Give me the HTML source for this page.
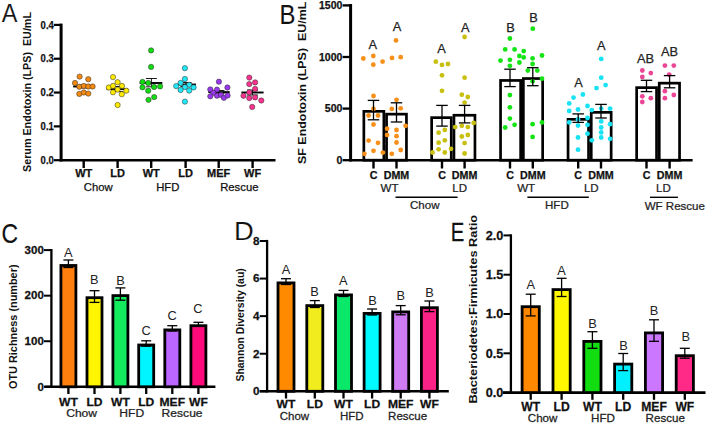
<!DOCTYPE html>
<html><head><meta charset="utf-8"><style>
html,body{margin:0;padding:0;background:#fff;width:707px;height:424px;overflow:hidden;}
svg{display:block;font-family:"Liberation Sans", sans-serif;}
</style></head><body>
<svg width="707" height="424" viewBox="0 0 707 424">
<rect x="0" y="0" width="707" height="424" fill="#fff"/>
<text transform="translate(1.65,22.40) scale(0.889,1)" x="0" y="0" font-size="26.45" fill="#111" stroke="#fff" stroke-width="0.15">A</text>
<text transform="translate(30.86,92.00) rotate(-90)" x="0" y="0" font-size="10.6" font-weight="bold" text-anchor="middle" fill="#111" textLength="160.0" lengthAdjust="spacingAndGlyphs">Serum Endotoxin (LPS)&#160;&#160;EU/mL</text>
<line x1="61.10" y1="23.60" x2="61.10" y2="161.40" stroke="#000" stroke-width="3"/>
<line x1="59.60" y1="160.20" x2="275.50" y2="160.20" stroke="#000" stroke-width="2.6"/>
<line x1="53.80" y1="160.20" x2="61.00" y2="160.20" stroke="#000" stroke-width="2.2"/>
<text transform="translate(53.80,163.86) scale(1.0,1)" x="0" y="0" font-size="10.6" font-weight="bold" text-anchor="end" fill="#111" stroke="#111" stroke-width="0.25" textLength="13.2" lengthAdjust="spacingAndGlyphs">0.0</text>
<line x1="53.80" y1="126.38" x2="61.00" y2="126.38" stroke="#000" stroke-width="2.2"/>
<text transform="translate(53.80,130.03) scale(1.0,1)" x="0" y="0" font-size="10.6" font-weight="bold" text-anchor="end" fill="#111" stroke="#111" stroke-width="0.25" textLength="13.2" lengthAdjust="spacingAndGlyphs">0.1</text>
<line x1="53.80" y1="92.55" x2="61.00" y2="92.55" stroke="#000" stroke-width="2.2"/>
<text transform="translate(53.80,96.21) scale(1.0,1)" x="0" y="0" font-size="10.6" font-weight="bold" text-anchor="end" fill="#111" stroke="#111" stroke-width="0.25" textLength="13.2" lengthAdjust="spacingAndGlyphs">0.2</text>
<line x1="53.80" y1="58.73" x2="61.00" y2="58.73" stroke="#000" stroke-width="2.2"/>
<text transform="translate(53.80,62.38) scale(1.0,1)" x="0" y="0" font-size="10.6" font-weight="bold" text-anchor="end" fill="#111" stroke="#111" stroke-width="0.25" textLength="13.2" lengthAdjust="spacingAndGlyphs">0.3</text>
<line x1="53.80" y1="24.90" x2="61.00" y2="24.90" stroke="#000" stroke-width="2.2"/>
<text transform="translate(53.80,28.56) scale(1.0,1)" x="0" y="0" font-size="10.6" font-weight="bold" text-anchor="end" fill="#111" stroke="#111" stroke-width="0.25" textLength="13.2" lengthAdjust="spacingAndGlyphs">0.4</text>
<line x1="83.70" y1="160.20" x2="83.70" y2="168.00" stroke="#000" stroke-width="2.4"/>
<text transform="translate(83.70,176.59) scale(1.0,1)" x="0" y="0" font-size="11" font-weight="bold" text-anchor="middle" fill="#111" stroke="#111" stroke-width="0.25" >WT</text>
<line x1="117.60" y1="160.20" x2="117.60" y2="168.00" stroke="#000" stroke-width="2.4"/>
<text transform="translate(117.60,176.59) scale(1.0,1)" x="0" y="0" font-size="11" font-weight="bold" text-anchor="middle" fill="#111" stroke="#111" stroke-width="0.25" >LD</text>
<line x1="151.20" y1="160.20" x2="151.20" y2="168.00" stroke="#000" stroke-width="2.4"/>
<text transform="translate(151.20,176.59) scale(1.0,1)" x="0" y="0" font-size="11" font-weight="bold" text-anchor="middle" fill="#111" stroke="#111" stroke-width="0.25" >WT</text>
<line x1="185.60" y1="160.20" x2="185.60" y2="168.00" stroke="#000" stroke-width="2.4"/>
<text transform="translate(185.60,176.59) scale(1.0,1)" x="0" y="0" font-size="11" font-weight="bold" text-anchor="middle" fill="#111" stroke="#111" stroke-width="0.25" >LD</text>
<line x1="218.70" y1="160.20" x2="218.70" y2="168.00" stroke="#000" stroke-width="2.4"/>
<text transform="translate(218.70,176.59) scale(1.0,1)" x="0" y="0" font-size="11" font-weight="bold" text-anchor="middle" fill="#111" stroke="#111" stroke-width="0.25" >MEF</text>
<line x1="252.60" y1="160.20" x2="252.60" y2="168.00" stroke="#000" stroke-width="2.4"/>
<text transform="translate(252.60,176.59) scale(1.0,1)" x="0" y="0" font-size="11" font-weight="bold" text-anchor="middle" fill="#111" stroke="#111" stroke-width="0.25" >WF</text>
<text transform="translate(98.20,190.90) scale(1.0,1)" x="0" y="0" font-size="11.3" font-weight="normal" text-anchor="middle" fill="#111" stroke="#111" stroke-width="0.25" >Chow</text>
<text transform="translate(167.80,191.30) scale(1.0,1)" x="0" y="0" font-size="11.3" font-weight="normal" text-anchor="middle" fill="#111" stroke="#111" stroke-width="0.25" >HFD</text>
<text transform="translate(239.30,191.30) scale(1.0,1)" x="0" y="0" font-size="11.3" font-weight="normal" text-anchor="middle" fill="#111" stroke="#111" stroke-width="0.25" >Rescue</text>
<line x1="73.20" y1="86.50" x2="93.40" y2="86.50" stroke="#000" stroke-width="1.9"/>
<line x1="84.00" y1="85.00" x2="84.00" y2="88.00" stroke="#000" stroke-width="0.9"/>
<line x1="78.50" y1="85.00" x2="89.50" y2="85.00" stroke="#000" stroke-width="0.9"/>
<line x1="78.50" y1="88.00" x2="89.50" y2="88.00" stroke="#000" stroke-width="0.9"/>
<line x1="106.60" y1="89.10" x2="127.90" y2="89.10" stroke="#000" stroke-width="1.9"/>
<line x1="117.60" y1="86.50" x2="117.60" y2="91.50" stroke="#000" stroke-width="0.9"/>
<line x1="112.10" y1="86.50" x2="123.10" y2="86.50" stroke="#000" stroke-width="0.9"/>
<line x1="112.10" y1="91.50" x2="123.10" y2="91.50" stroke="#000" stroke-width="0.9"/>
<line x1="139.70" y1="83.00" x2="162.30" y2="83.00" stroke="#000" stroke-width="1.9"/>
<line x1="151.40" y1="78.50" x2="151.40" y2="86.80" stroke="#000" stroke-width="0.9"/>
<line x1="145.90" y1="78.50" x2="156.90" y2="78.50" stroke="#000" stroke-width="0.9"/>
<line x1="145.90" y1="86.80" x2="156.90" y2="86.80" stroke="#000" stroke-width="0.9"/>
<line x1="177.80" y1="84.50" x2="195.90" y2="84.50" stroke="#000" stroke-width="1.9"/>
<line x1="186.00" y1="82.50" x2="186.00" y2="86.50" stroke="#000" stroke-width="0.9"/>
<line x1="180.50" y1="82.50" x2="191.50" y2="82.50" stroke="#000" stroke-width="0.9"/>
<line x1="180.50" y1="86.50" x2="191.50" y2="86.50" stroke="#000" stroke-width="0.9"/>
<line x1="208.30" y1="92.10" x2="229.70" y2="92.10" stroke="#000" stroke-width="1.9"/>
<line x1="219.00" y1="90.50" x2="219.00" y2="93.50" stroke="#000" stroke-width="0.9"/>
<line x1="213.50" y1="90.50" x2="224.50" y2="90.50" stroke="#000" stroke-width="0.9"/>
<line x1="213.50" y1="93.50" x2="224.50" y2="93.50" stroke="#000" stroke-width="0.9"/>
<line x1="241.40" y1="92.50" x2="263.60" y2="92.50" stroke="#000" stroke-width="1.9"/>
<line x1="252.50" y1="90.00" x2="252.50" y2="95.00" stroke="#000" stroke-width="0.9"/>
<line x1="247.00" y1="90.00" x2="258.00" y2="90.00" stroke="#000" stroke-width="0.9"/>
<line x1="247.00" y1="95.00" x2="258.00" y2="95.00" stroke="#000" stroke-width="0.9"/>
<circle cx="79.60" cy="76.60" r="2.65" fill="#F58A12" stroke="#2a2a2a" stroke-width="0.5"/>
<circle cx="88.30" cy="79.20" r="2.65" fill="#F58A12" stroke="#2a2a2a" stroke-width="0.5"/>
<circle cx="75.00" cy="83.00" r="2.65" fill="#F58A12" stroke="#2a2a2a" stroke-width="0.5"/>
<circle cx="79.30" cy="86.80" r="2.65" fill="#F58A12" stroke="#2a2a2a" stroke-width="0.5"/>
<circle cx="83.80" cy="85.90" r="2.65" fill="#F58A12" stroke="#2a2a2a" stroke-width="0.5"/>
<circle cx="88.30" cy="86.50" r="2.65" fill="#F58A12" stroke="#2a2a2a" stroke-width="0.5"/>
<circle cx="92.60" cy="86.50" r="2.65" fill="#F58A12" stroke="#2a2a2a" stroke-width="0.5"/>
<circle cx="79.30" cy="93.90" r="2.65" fill="#F58A12" stroke="#2a2a2a" stroke-width="0.5"/>
<circle cx="83.80" cy="92.50" r="2.65" fill="#F58A12" stroke="#2a2a2a" stroke-width="0.5"/>
<circle cx="88.30" cy="93.60" r="2.65" fill="#F58A12" stroke="#2a2a2a" stroke-width="0.5"/>
<circle cx="113.00" cy="77.10" r="2.65" fill="#FFEA00" stroke="#2a2a2a" stroke-width="0.5"/>
<circle cx="117.60" cy="82.20" r="2.65" fill="#FFEA00" stroke="#2a2a2a" stroke-width="0.5"/>
<circle cx="108.80" cy="87.50" r="2.65" fill="#FFEA00" stroke="#2a2a2a" stroke-width="0.5"/>
<circle cx="113.00" cy="85.90" r="2.65" fill="#FFEA00" stroke="#2a2a2a" stroke-width="0.5"/>
<circle cx="122.00" cy="85.90" r="2.65" fill="#FFEA00" stroke="#2a2a2a" stroke-width="0.5"/>
<circle cx="117.60" cy="89.60" r="2.65" fill="#FFEA00" stroke="#2a2a2a" stroke-width="0.5"/>
<circle cx="126.30" cy="90.70" r="2.65" fill="#FFEA00" stroke="#2a2a2a" stroke-width="0.5"/>
<circle cx="113.00" cy="92.30" r="2.65" fill="#FFEA00" stroke="#2a2a2a" stroke-width="0.5"/>
<circle cx="121.80" cy="94.20" r="2.65" fill="#FFEA00" stroke="#2a2a2a" stroke-width="0.5"/>
<circle cx="117.60" cy="105.00" r="2.65" fill="#FFEA00" stroke="#2a2a2a" stroke-width="0.5"/>
<circle cx="151.10" cy="50.40" r="2.65" fill="#12DC12" stroke="#2a2a2a" stroke-width="0.5"/>
<circle cx="151.10" cy="66.90" r="2.65" fill="#12DC12" stroke="#2a2a2a" stroke-width="0.5"/>
<circle cx="142.50" cy="81.90" r="2.65" fill="#12DC12" stroke="#2a2a2a" stroke-width="0.5"/>
<circle cx="148.20" cy="83.00" r="2.65" fill="#12DC12" stroke="#2a2a2a" stroke-width="0.5"/>
<circle cx="142.50" cy="87.30" r="2.65" fill="#12DC12" stroke="#2a2a2a" stroke-width="0.5"/>
<circle cx="148.20" cy="90.70" r="2.65" fill="#12DC12" stroke="#2a2a2a" stroke-width="0.5"/>
<circle cx="154.10" cy="87.00" r="2.65" fill="#12DC12" stroke="#2a2a2a" stroke-width="0.5"/>
<circle cx="160.10" cy="86.40" r="2.65" fill="#12DC12" stroke="#2a2a2a" stroke-width="0.5"/>
<circle cx="148.50" cy="99.80" r="2.65" fill="#12DC12" stroke="#2a2a2a" stroke-width="0.5"/>
<circle cx="154.20" cy="97.10" r="2.65" fill="#12DC12" stroke="#2a2a2a" stroke-width="0.5"/>
<circle cx="184.90" cy="68.20" r="2.65" fill="#22E8F8" stroke="#2a2a2a" stroke-width="0.5"/>
<circle cx="184.90" cy="79.00" r="2.65" fill="#22E8F8" stroke="#2a2a2a" stroke-width="0.5"/>
<circle cx="180.60" cy="82.90" r="2.65" fill="#22E8F8" stroke="#2a2a2a" stroke-width="0.5"/>
<circle cx="189.20" cy="84.80" r="2.65" fill="#22E8F8" stroke="#2a2a2a" stroke-width="0.5"/>
<circle cx="176.20" cy="86.10" r="2.65" fill="#22E8F8" stroke="#2a2a2a" stroke-width="0.5"/>
<circle cx="184.90" cy="87.10" r="2.65" fill="#22E8F8" stroke="#2a2a2a" stroke-width="0.5"/>
<circle cx="193.60" cy="87.40" r="2.65" fill="#22E8F8" stroke="#2a2a2a" stroke-width="0.5"/>
<circle cx="180.60" cy="90.00" r="2.65" fill="#22E8F8" stroke="#2a2a2a" stroke-width="0.5"/>
<circle cx="189.20" cy="90.60" r="2.65" fill="#22E8F8" stroke="#2a2a2a" stroke-width="0.5"/>
<circle cx="184.90" cy="101.60" r="2.65" fill="#22E8F8" stroke="#2a2a2a" stroke-width="0.5"/>
<circle cx="218.90" cy="81.70" r="2.65" fill="#9A38EE" stroke="#2a2a2a" stroke-width="0.5"/>
<circle cx="210.30" cy="89.40" r="2.65" fill="#9A38EE" stroke="#2a2a2a" stroke-width="0.5"/>
<circle cx="217.00" cy="89.60" r="2.65" fill="#9A38EE" stroke="#2a2a2a" stroke-width="0.5"/>
<circle cx="227.40" cy="87.50" r="2.65" fill="#9A38EE" stroke="#2a2a2a" stroke-width="0.5"/>
<circle cx="213.30" cy="92.80" r="2.65" fill="#9A38EE" stroke="#2a2a2a" stroke-width="0.5"/>
<circle cx="210.30" cy="96.30" r="2.65" fill="#9A38EE" stroke="#2a2a2a" stroke-width="0.5"/>
<circle cx="217.00" cy="95.70" r="2.65" fill="#9A38EE" stroke="#2a2a2a" stroke-width="0.5"/>
<circle cx="221.00" cy="94.90" r="2.65" fill="#9A38EE" stroke="#2a2a2a" stroke-width="0.5"/>
<circle cx="223.90" cy="97.80" r="2.65" fill="#9A38EE" stroke="#2a2a2a" stroke-width="0.5"/>
<circle cx="227.60" cy="95.50" r="2.65" fill="#9A38EE" stroke="#2a2a2a" stroke-width="0.5"/>
<circle cx="249.30" cy="77.60" r="2.65" fill="#F8338F" stroke="#2a2a2a" stroke-width="0.5"/>
<circle cx="255.10" cy="82.40" r="2.65" fill="#F8338F" stroke="#2a2a2a" stroke-width="0.5"/>
<circle cx="249.30" cy="84.10" r="2.65" fill="#F8338F" stroke="#2a2a2a" stroke-width="0.5"/>
<circle cx="255.10" cy="88.90" r="2.65" fill="#F8338F" stroke="#2a2a2a" stroke-width="0.5"/>
<circle cx="249.30" cy="92.30" r="2.65" fill="#F8338F" stroke="#2a2a2a" stroke-width="0.5"/>
<circle cx="243.50" cy="95.80" r="2.65" fill="#F8338F" stroke="#2a2a2a" stroke-width="0.5"/>
<circle cx="249.30" cy="98.10" r="2.65" fill="#F8338F" stroke="#2a2a2a" stroke-width="0.5"/>
<circle cx="255.10" cy="97.40" r="2.65" fill="#F8338F" stroke="#2a2a2a" stroke-width="0.5"/>
<circle cx="261.30" cy="100.50" r="2.65" fill="#F8338F" stroke="#2a2a2a" stroke-width="0.5"/>
<circle cx="252.20" cy="106.90" r="2.65" fill="#F8338F" stroke="#2a2a2a" stroke-width="0.5"/>
<text transform="translate(279.44,24.40) scale(0.893,1)" x="0" y="0" font-size="26.74" fill="#111" stroke="#111" stroke-width="0.1">B</text>
<text transform="translate(306.36,82.85) rotate(-90)" x="0" y="0" font-size="10.6" font-weight="bold" text-anchor="middle" fill="#111" textLength="162.3" lengthAdjust="spacingAndGlyphs">SF Endotoxin (LPS)&#160;&#160;EU/mL</text>
<line x1="350.60" y1="4.00" x2="350.60" y2="161.40" stroke="#000" stroke-width="3.0"/>
<line x1="349.20" y1="160.20" x2="692.60" y2="160.20" stroke="#000" stroke-width="2.6"/>
<line x1="342.60" y1="160.20" x2="350.50" y2="160.20" stroke="#000" stroke-width="2.3"/>
<text transform="translate(342.40,163.99) scale(1.0,1)" x="0" y="0" font-size="11" font-weight="bold" text-anchor="end" fill="#111" stroke="#111" stroke-width="0.25" textLength="5.9" lengthAdjust="spacingAndGlyphs">0</text>
<line x1="342.60" y1="108.60" x2="350.50" y2="108.60" stroke="#000" stroke-width="2.3"/>
<text transform="translate(342.40,112.39) scale(1.0,1)" x="0" y="0" font-size="11" font-weight="bold" text-anchor="end" fill="#111" stroke="#111" stroke-width="0.25" textLength="17.6" lengthAdjust="spacingAndGlyphs">500</text>
<line x1="342.60" y1="57.00" x2="350.50" y2="57.00" stroke="#000" stroke-width="2.3"/>
<text transform="translate(342.40,60.80) scale(1.0,1)" x="0" y="0" font-size="11" font-weight="bold" text-anchor="end" fill="#111" stroke="#111" stroke-width="0.25" textLength="23.4" lengthAdjust="spacingAndGlyphs">1000</text>
<line x1="342.60" y1="5.40" x2="350.50" y2="5.40" stroke="#000" stroke-width="2.3"/>
<text transform="translate(342.40,9.20) scale(1.0,1)" x="0" y="0" font-size="11" font-weight="bold" text-anchor="end" fill="#111" stroke="#111" stroke-width="0.25" textLength="23.4" lengthAdjust="spacingAndGlyphs">1500</text>
<rect x="363.85" y="111.35" width="20.00" height="48.85" fill="#fff" stroke="#000" stroke-width="2.7"/>
<rect x="386.55" y="114.15" width="19.90" height="46.05" fill="#fff" stroke="#000" stroke-width="2.7"/>
<rect x="431.65" y="117.65" width="19.60" height="42.55" fill="#fff" stroke="#000" stroke-width="2.7"/>
<rect x="453.95" y="115.25" width="21.00" height="44.95" fill="#fff" stroke="#000" stroke-width="2.7"/>
<rect x="500.55" y="80.45" width="20.10" height="79.75" fill="#fff" stroke="#000" stroke-width="2.7"/>
<rect x="523.35" y="78.55" width="19.30" height="81.65" fill="#fff" stroke="#000" stroke-width="2.7"/>
<rect x="568.05" y="119.35" width="20.50" height="40.85" fill="#fff" stroke="#000" stroke-width="2.7"/>
<rect x="591.25" y="112.35" width="19.90" height="47.85" fill="#fff" stroke="#000" stroke-width="2.7"/>
<rect x="636.65" y="87.65" width="19.90" height="72.55" fill="#fff" stroke="#000" stroke-width="2.7"/>
<rect x="659.25" y="83.15" width="20.30" height="77.05" fill="#fff" stroke="#000" stroke-width="2.7"/>
<circle cx="363.30" cy="58.50" r="2.4" fill="#F7901A"/>
<circle cx="373.30" cy="56.00" r="2.4" fill="#F7901A"/>
<circle cx="373.30" cy="64.70" r="2.4" fill="#F7901A"/>
<circle cx="382.60" cy="61.60" r="2.4" fill="#F7901A"/>
<circle cx="373.50" cy="96.00" r="2.4" fill="#F7901A"/>
<circle cx="373.50" cy="108.90" r="2.4" fill="#F7901A"/>
<circle cx="368.60" cy="115.50" r="2.4" fill="#F7901A"/>
<circle cx="378.00" cy="115.50" r="2.4" fill="#F7901A"/>
<circle cx="373.50" cy="124.50" r="2.4" fill="#F7901A"/>
<circle cx="368.60" cy="140.60" r="2.4" fill="#F7901A"/>
<circle cx="378.00" cy="142.80" r="2.4" fill="#F7901A"/>
<circle cx="373.50" cy="150.80" r="2.4" fill="#F7901A"/>
<circle cx="364.40" cy="153.80" r="2.4" fill="#F7901A"/>
<circle cx="382.90" cy="152.60" r="2.4" fill="#F7901A"/>
<circle cx="392.00" cy="57.90" r="2.4" fill="#F7901A"/>
<circle cx="400.70" cy="57.20" r="2.4" fill="#F7901A"/>
<circle cx="396.00" cy="40.40" r="2.4" fill="#F7901A"/>
<circle cx="396.50" cy="99.80" r="2.4" fill="#F7901A"/>
<circle cx="391.80" cy="108.90" r="2.4" fill="#F7901A"/>
<circle cx="400.70" cy="108.30" r="2.4" fill="#F7901A"/>
<circle cx="405.60" cy="125.80" r="2.4" fill="#F7901A"/>
<circle cx="387.10" cy="128.70" r="2.4" fill="#F7901A"/>
<circle cx="396.50" cy="130.00" r="2.4" fill="#F7901A"/>
<circle cx="387.10" cy="134.90" r="2.4" fill="#F7901A"/>
<circle cx="396.50" cy="136.20" r="2.4" fill="#F7901A"/>
<circle cx="396.50" cy="142.50" r="2.4" fill="#F7901A"/>
<circle cx="400.70" cy="150.00" r="2.4" fill="#F7901A"/>
<circle cx="391.80" cy="153.80" r="2.4" fill="#F7901A"/>
<circle cx="435.80" cy="61.70" r="2.4" fill="#C8C010"/>
<circle cx="442.00" cy="64.90" r="2.4" fill="#C8C010"/>
<circle cx="448.00" cy="64.00" r="2.4" fill="#C8C010"/>
<circle cx="442.00" cy="75.30" r="2.4" fill="#C8C010"/>
<circle cx="442.00" cy="90.80" r="2.4" fill="#C8C010"/>
<circle cx="438.60" cy="132.70" r="2.4" fill="#C8C010"/>
<circle cx="444.80" cy="129.90" r="2.4" fill="#C8C010"/>
<circle cx="444.80" cy="140.30" r="2.4" fill="#C8C010"/>
<circle cx="438.60" cy="142.70" r="2.4" fill="#C8C010"/>
<circle cx="438.60" cy="149.30" r="2.4" fill="#C8C010"/>
<circle cx="451.00" cy="148.80" r="2.4" fill="#C8C010"/>
<circle cx="432.50" cy="152.50" r="2.4" fill="#C8C010"/>
<circle cx="444.80" cy="152.50" r="2.4" fill="#C8C010"/>
<circle cx="464.60" cy="37.00" r="2.4" fill="#C8C010"/>
<circle cx="464.60" cy="77.70" r="2.4" fill="#C8C010"/>
<circle cx="461.80" cy="94.70" r="2.4" fill="#C8C010"/>
<circle cx="467.80" cy="97.00" r="2.4" fill="#C8C010"/>
<circle cx="464.60" cy="102.60" r="2.4" fill="#C8C010"/>
<circle cx="473.70" cy="122.90" r="2.4" fill="#C8C010"/>
<circle cx="455.20" cy="127.10" r="2.4" fill="#C8C010"/>
<circle cx="461.80" cy="125.80" r="2.4" fill="#C8C010"/>
<circle cx="467.80" cy="127.10" r="2.4" fill="#C8C010"/>
<circle cx="461.80" cy="136.50" r="2.4" fill="#C8C010"/>
<circle cx="467.80" cy="135.00" r="2.4" fill="#C8C010"/>
<circle cx="464.60" cy="143.10" r="2.4" fill="#C8C010"/>
<circle cx="464.60" cy="153.50" r="2.4" fill="#C8C010"/>
<circle cx="509.90" cy="38.50" r="2.4" fill="#14E414"/>
<circle cx="505.20" cy="49.40" r="2.4" fill="#14E414"/>
<circle cx="514.60" cy="49.40" r="2.4" fill="#14E414"/>
<circle cx="500.50" cy="60.60" r="2.4" fill="#14E414"/>
<circle cx="509.90" cy="59.80" r="2.4" fill="#14E414"/>
<circle cx="509.90" cy="65.80" r="2.4" fill="#14E414"/>
<circle cx="509.90" cy="95.10" r="2.4" fill="#14E414"/>
<circle cx="509.90" cy="107.30" r="2.4" fill="#14E414"/>
<circle cx="509.90" cy="118.60" r="2.4" fill="#14E414"/>
<circle cx="505.20" cy="127.50" r="2.4" fill="#14E414"/>
<circle cx="514.60" cy="124.80" r="2.4" fill="#14E414"/>
<circle cx="532.80" cy="28.70" r="2.4" fill="#14E414"/>
<circle cx="523.70" cy="51.10" r="2.4" fill="#14E414"/>
<circle cx="519.40" cy="56.00" r="2.4" fill="#14E414"/>
<circle cx="523.70" cy="57.40" r="2.4" fill="#14E414"/>
<circle cx="519.40" cy="62.50" r="2.4" fill="#14E414"/>
<circle cx="532.60" cy="58.30" r="2.4" fill="#14E414"/>
<circle cx="542.00" cy="55.50" r="2.4" fill="#14E414"/>
<circle cx="532.60" cy="64.00" r="2.4" fill="#14E414"/>
<circle cx="527.80" cy="70.60" r="2.4" fill="#14E414"/>
<circle cx="537.30" cy="70.60" r="2.4" fill="#14E414"/>
<circle cx="532.60" cy="81.30" r="2.4" fill="#14E414"/>
<circle cx="542.00" cy="78.70" r="2.4" fill="#14E414"/>
<circle cx="532.60" cy="124.20" r="2.4" fill="#14E414"/>
<circle cx="542.00" cy="122.40" r="2.4" fill="#14E414"/>
<circle cx="532.60" cy="136.90" r="2.4" fill="#14E414"/>
<circle cx="582.90" cy="94.50" r="2.4" fill="#18E2F4"/>
<circle cx="573.50" cy="97.60" r="2.4" fill="#18E2F4"/>
<circle cx="569.20" cy="103.40" r="2.4" fill="#18E2F4"/>
<circle cx="587.50" cy="106.00" r="2.4" fill="#18E2F4"/>
<circle cx="578.00" cy="109.50" r="2.4" fill="#18E2F4"/>
<circle cx="569.20" cy="111.00" r="2.4" fill="#18E2F4"/>
<circle cx="578.00" cy="119.50" r="2.4" fill="#18E2F4"/>
<circle cx="569.20" cy="122.40" r="2.4" fill="#18E2F4"/>
<circle cx="587.50" cy="118.00" r="2.4" fill="#18E2F4"/>
<circle cx="578.00" cy="125.60" r="2.4" fill="#18E2F4"/>
<circle cx="587.50" cy="124.80" r="2.4" fill="#18E2F4"/>
<circle cx="587.50" cy="133.70" r="2.4" fill="#18E2F4"/>
<circle cx="578.00" cy="137.50" r="2.4" fill="#18E2F4"/>
<circle cx="578.00" cy="149.70" r="2.4" fill="#18E2F4"/>
<circle cx="601.20" cy="58.90" r="2.4" fill="#18E2F4"/>
<circle cx="601.20" cy="77.70" r="2.4" fill="#18E2F4"/>
<circle cx="596.50" cy="88.10" r="2.4" fill="#18E2F4"/>
<circle cx="605.60" cy="85.10" r="2.4" fill="#18E2F4"/>
<circle cx="591.80" cy="110.10" r="2.4" fill="#18E2F4"/>
<circle cx="601.20" cy="108.60" r="2.4" fill="#18E2F4"/>
<circle cx="610.10" cy="108.60" r="2.4" fill="#18E2F4"/>
<circle cx="601.20" cy="121.40" r="2.4" fill="#18E2F4"/>
<circle cx="610.10" cy="124.20" r="2.4" fill="#18E2F4"/>
<circle cx="601.20" cy="127.50" r="2.4" fill="#18E2F4"/>
<circle cx="601.20" cy="132.40" r="2.4" fill="#18E2F4"/>
<circle cx="601.20" cy="137.50" r="2.4" fill="#18E2F4"/>
<circle cx="591.80" cy="140.30" r="2.4" fill="#18E2F4"/>
<circle cx="610.10" cy="138.80" r="2.4" fill="#18E2F4"/>
<circle cx="642.30" cy="70.50" r="2.4" fill="#EC4596"/>
<circle cx="650.80" cy="73.10" r="2.4" fill="#EC4596"/>
<circle cx="642.30" cy="76.90" r="2.4" fill="#EC4596"/>
<circle cx="642.30" cy="96.30" r="2.4" fill="#EC4596"/>
<circle cx="650.80" cy="98.20" r="2.4" fill="#EC4596"/>
<circle cx="642.30" cy="102.00" r="2.4" fill="#EC4596"/>
<circle cx="664.90" cy="65.60" r="2.4" fill="#EC4596"/>
<circle cx="673.80" cy="65.60" r="2.4" fill="#EC4596"/>
<circle cx="669.20" cy="74.60" r="2.4" fill="#EC4596"/>
<circle cx="664.90" cy="91.20" r="2.4" fill="#EC4596"/>
<circle cx="673.80" cy="95.00" r="2.4" fill="#EC4596"/>
<circle cx="664.90" cy="98.20" r="2.4" fill="#EC4596"/>
<line x1="373.50" y1="100.40" x2="373.50" y2="119.80" stroke="#000" stroke-width="1.3"/>
<line x1="367.75" y1="100.40" x2="379.25" y2="100.40" stroke="#000" stroke-width="1.3"/>
<line x1="367.75" y1="119.80" x2="379.25" y2="119.80" stroke="#000" stroke-width="1.3"/>
<line x1="396.50" y1="102.80" x2="396.50" y2="122.00" stroke="#000" stroke-width="1.3"/>
<line x1="390.75" y1="102.80" x2="402.25" y2="102.80" stroke="#000" stroke-width="1.3"/>
<line x1="390.75" y1="122.00" x2="402.25" y2="122.00" stroke="#000" stroke-width="1.3"/>
<line x1="442.00" y1="105.40" x2="442.00" y2="126.10" stroke="#000" stroke-width="1.3"/>
<line x1="436.25" y1="105.40" x2="447.75" y2="105.40" stroke="#000" stroke-width="1.3"/>
<line x1="436.25" y1="126.10" x2="447.75" y2="126.10" stroke="#000" stroke-width="1.3"/>
<line x1="464.60" y1="105.40" x2="464.60" y2="122.90" stroke="#000" stroke-width="1.3"/>
<line x1="458.85" y1="105.40" x2="470.35" y2="105.40" stroke="#000" stroke-width="1.3"/>
<line x1="458.85" y1="122.90" x2="470.35" y2="122.90" stroke="#000" stroke-width="1.3"/>
<line x1="510.00" y1="69.20" x2="510.00" y2="86.60" stroke="#000" stroke-width="1.3"/>
<line x1="504.25" y1="69.20" x2="515.75" y2="69.20" stroke="#000" stroke-width="1.3"/>
<line x1="504.25" y1="86.60" x2="515.75" y2="86.60" stroke="#000" stroke-width="1.3"/>
<line x1="532.80" y1="67.70" x2="532.80" y2="85.70" stroke="#000" stroke-width="1.3"/>
<line x1="527.05" y1="67.70" x2="538.55" y2="67.70" stroke="#000" stroke-width="1.3"/>
<line x1="527.05" y1="85.70" x2="538.55" y2="85.70" stroke="#000" stroke-width="1.3"/>
<line x1="578.20" y1="113.90" x2="578.20" y2="122.40" stroke="#000" stroke-width="1.3"/>
<line x1="572.45" y1="113.90" x2="583.95" y2="113.90" stroke="#000" stroke-width="1.3"/>
<line x1="572.45" y1="122.40" x2="583.95" y2="122.40" stroke="#000" stroke-width="1.3"/>
<line x1="601.00" y1="104.40" x2="601.00" y2="118.00" stroke="#000" stroke-width="1.3"/>
<line x1="595.25" y1="104.40" x2="606.75" y2="104.40" stroke="#000" stroke-width="1.3"/>
<line x1="595.25" y1="118.00" x2="606.75" y2="118.00" stroke="#000" stroke-width="1.3"/>
<line x1="646.50" y1="80.30" x2="646.50" y2="91.60" stroke="#000" stroke-width="1.3"/>
<line x1="640.75" y1="80.30" x2="652.25" y2="80.30" stroke="#000" stroke-width="1.3"/>
<line x1="640.75" y1="91.60" x2="652.25" y2="91.60" stroke="#000" stroke-width="1.3"/>
<line x1="669.60" y1="75.60" x2="669.60" y2="87.80" stroke="#000" stroke-width="1.3"/>
<line x1="663.85" y1="75.60" x2="675.35" y2="75.60" stroke="#000" stroke-width="1.3"/>
<line x1="663.85" y1="87.80" x2="675.35" y2="87.80" stroke="#000" stroke-width="1.3"/>
<line x1="373.50" y1="160.20" x2="373.50" y2="168.50" stroke="#000" stroke-width="2.4"/>
<text transform="translate(373.50,178.99) scale(1.0,1)" x="0" y="0" font-size="10.7" font-weight="bold" text-anchor="middle" fill="#111" stroke="#111" stroke-width="0.25" >C</text>
<line x1="396.50" y1="160.20" x2="396.50" y2="168.50" stroke="#000" stroke-width="2.4"/>
<text transform="translate(396.50,178.99) scale(1.0,1)" x="0" y="0" font-size="10.7" font-weight="bold" text-anchor="middle" fill="#111" stroke="#111" stroke-width="0.25" >DMM</text>
<line x1="442.00" y1="160.20" x2="442.00" y2="168.50" stroke="#000" stroke-width="2.4"/>
<text transform="translate(442.00,178.99) scale(1.0,1)" x="0" y="0" font-size="10.7" font-weight="bold" text-anchor="middle" fill="#111" stroke="#111" stroke-width="0.25" >C</text>
<line x1="464.60" y1="160.20" x2="464.60" y2="168.50" stroke="#000" stroke-width="2.4"/>
<text transform="translate(464.60,178.99) scale(1.0,1)" x="0" y="0" font-size="10.7" font-weight="bold" text-anchor="middle" fill="#111" stroke="#111" stroke-width="0.25" >DMM</text>
<line x1="510.00" y1="160.20" x2="510.00" y2="168.50" stroke="#000" stroke-width="2.4"/>
<text transform="translate(510.00,178.99) scale(1.0,1)" x="0" y="0" font-size="10.7" font-weight="bold" text-anchor="middle" fill="#111" stroke="#111" stroke-width="0.25" >C</text>
<line x1="532.80" y1="160.20" x2="532.80" y2="168.50" stroke="#000" stroke-width="2.4"/>
<text transform="translate(532.80,178.99) scale(1.0,1)" x="0" y="0" font-size="10.7" font-weight="bold" text-anchor="middle" fill="#111" stroke="#111" stroke-width="0.25" >DMM</text>
<line x1="578.20" y1="160.20" x2="578.20" y2="168.50" stroke="#000" stroke-width="2.4"/>
<text transform="translate(578.20,178.99) scale(1.0,1)" x="0" y="0" font-size="10.7" font-weight="bold" text-anchor="middle" fill="#111" stroke="#111" stroke-width="0.25" >C</text>
<line x1="601.00" y1="160.20" x2="601.00" y2="168.50" stroke="#000" stroke-width="2.4"/>
<text transform="translate(601.00,178.99) scale(1.0,1)" x="0" y="0" font-size="10.7" font-weight="bold" text-anchor="middle" fill="#111" stroke="#111" stroke-width="0.25" >DMM</text>
<line x1="646.50" y1="160.20" x2="646.50" y2="168.50" stroke="#000" stroke-width="2.4"/>
<text transform="translate(646.50,178.99) scale(1.0,1)" x="0" y="0" font-size="10.7" font-weight="bold" text-anchor="middle" fill="#111" stroke="#111" stroke-width="0.25" >C</text>
<line x1="669.60" y1="160.20" x2="669.60" y2="168.50" stroke="#000" stroke-width="2.4"/>
<text transform="translate(669.60,178.99) scale(1.0,1)" x="0" y="0" font-size="10.7" font-weight="bold" text-anchor="middle" fill="#111" stroke="#111" stroke-width="0.25" >DMM</text>
<text transform="translate(372.70,49.22) scale(1.0,1)" x="0" y="0" font-size="12.8" font-weight="normal" text-anchor="middle" fill="#222" stroke="#222" stroke-width="0.25" >A</text>
<text transform="translate(397.00,31.22) scale(1.0,1)" x="0" y="0" font-size="12.8" font-weight="normal" text-anchor="middle" fill="#222" stroke="#222" stroke-width="0.25" >A</text>
<text transform="translate(441.60,53.22) scale(1.0,1)" x="0" y="0" font-size="12.8" font-weight="normal" text-anchor="middle" fill="#222" stroke="#222" stroke-width="0.25" >A</text>
<text transform="translate(465.30,31.52) scale(1.0,1)" x="0" y="0" font-size="12.8" font-weight="normal" text-anchor="middle" fill="#222" stroke="#222" stroke-width="0.25" >A</text>
<text transform="translate(510.60,32.02) scale(1.0,1)" x="0" y="0" font-size="12.8" font-weight="normal" text-anchor="middle" fill="#222" stroke="#222" stroke-width="0.25" >B</text>
<text transform="translate(533.50,22.22) scale(1.0,1)" x="0" y="0" font-size="12.8" font-weight="normal" text-anchor="middle" fill="#222" stroke="#222" stroke-width="0.25" >B</text>
<text transform="translate(578.60,87.22) scale(1.0,1)" x="0" y="0" font-size="12.8" font-weight="normal" text-anchor="middle" fill="#222" stroke="#222" stroke-width="0.25" >A</text>
<text transform="translate(601.20,49.52) scale(1.0,1)" x="0" y="0" font-size="12.8" font-weight="normal" text-anchor="middle" fill="#222" stroke="#222" stroke-width="0.25" >A</text>
<text transform="translate(645.50,63.02) scale(1.0,1)" x="0" y="0" font-size="12.8" font-weight="normal" text-anchor="middle" fill="#222" stroke="#222" stroke-width="0.25" >AB</text>
<text transform="translate(669.60,56.42) scale(1.0,1)" x="0" y="0" font-size="12.8" font-weight="normal" text-anchor="middle" fill="#222" stroke="#222" stroke-width="0.25" >AB</text>
<text transform="translate(389.60,191.77) scale(0.98,1)" x="0" y="0" font-size="11.8" font-weight="normal" text-anchor="middle" fill="#222" stroke="#222" stroke-width="0.25" >WT</text>
<text transform="translate(459.70,191.77) scale(0.98,1)" x="0" y="0" font-size="11.8" font-weight="normal" text-anchor="middle" fill="#222" stroke="#222" stroke-width="0.25" >LD</text>
<text transform="translate(526.20,191.77) scale(0.98,1)" x="0" y="0" font-size="11.8" font-weight="normal" text-anchor="middle" fill="#222" stroke="#222" stroke-width="0.25" >WT</text>
<text transform="translate(591.30,191.77) scale(0.98,1)" x="0" y="0" font-size="11.8" font-weight="normal" text-anchor="middle" fill="#222" stroke="#222" stroke-width="0.25" >LD</text>
<text transform="translate(663.40,191.77) scale(0.98,1)" x="0" y="0" font-size="11.8" font-weight="normal" text-anchor="middle" fill="#222" stroke="#222" stroke-width="0.25" >LD</text>
<line x1="395.50" y1="197.30" x2="457.60" y2="197.30" stroke="#000" stroke-width="1.4"/>
<line x1="527.40" y1="197.20" x2="588.80" y2="197.20" stroke="#000" stroke-width="1.4"/>
<line x1="650.00" y1="197.30" x2="677.90" y2="197.30" stroke="#000" stroke-width="1.4"/>
<text transform="translate(424.80,208.67) scale(0.98,1)" x="0" y="0" font-size="11.8" font-weight="normal" text-anchor="middle" fill="#222" stroke="#222" stroke-width="0.25" >Chow</text>
<text transform="translate(556.90,208.97) scale(0.98,1)" x="0" y="0" font-size="11.8" font-weight="normal" text-anchor="middle" fill="#222" stroke="#222" stroke-width="0.25" >HFD</text>
<text transform="translate(674.80,209.67) scale(0.98,1)" x="0" y="0" font-size="11.8" font-weight="normal" text-anchor="middle" fill="#222" stroke="#222" stroke-width="0.25" >WF Rescue</text>
<text transform="translate(1.53,242.53) scale(0.840,1)" x="0" y="0" font-size="27.26" fill="#111" stroke="#111" stroke-width="0.15">C</text>
<text transform="translate(17.36,326.75) rotate(-90)" x="0" y="0" font-size="10.6" font-weight="bold" text-anchor="middle" fill="#111" textLength="124.5" lengthAdjust="spacingAndGlyphs">OTU Richness (number)</text>
<line x1="51.40" y1="249.00" x2="51.40" y2="388.00" stroke="#000" stroke-width="2.3"/>
<line x1="44.60" y1="386.80" x2="215.40" y2="386.80" stroke="#000" stroke-width="2.6"/>
<line x1="44.00" y1="386.80" x2="51.40" y2="386.80" stroke="#000" stroke-width="2.0"/>
<text transform="translate(43.80,390.62) scale(1.13,1)" x="0" y="0" font-size="10.2" font-weight="bold" text-anchor="end" fill="#111" stroke="#111" stroke-width="0.25" >0</text>
<line x1="44.00" y1="341.23" x2="51.40" y2="341.23" stroke="#000" stroke-width="2.0"/>
<text transform="translate(43.80,345.05) scale(1.13,1)" x="0" y="0" font-size="10.2" font-weight="bold" text-anchor="end" fill="#111" stroke="#111" stroke-width="0.25" >100</text>
<line x1="44.00" y1="295.67" x2="51.40" y2="295.67" stroke="#000" stroke-width="2.0"/>
<text transform="translate(43.80,299.49) scale(1.13,1)" x="0" y="0" font-size="10.2" font-weight="bold" text-anchor="end" fill="#111" stroke="#111" stroke-width="0.25" >200</text>
<line x1="44.00" y1="250.10" x2="51.40" y2="250.10" stroke="#000" stroke-width="2.0"/>
<text transform="translate(43.80,253.92) scale(1.13,1)" x="0" y="0" font-size="10.2" font-weight="bold" text-anchor="end" fill="#111" stroke="#111" stroke-width="0.25" >300</text>
<rect x="60.90" y="265.50" width="15.00" height="121.30" fill="#FF7F0E" stroke="#000" stroke-width="2.8"/>
<line x1="68.40" y1="260.00" x2="68.40" y2="267.50" stroke="#000" stroke-width="1.3"/>
<line x1="63.40" y1="260.00" x2="73.40" y2="260.00" stroke="#000" stroke-width="1.3"/>
<line x1="63.40" y1="267.50" x2="73.40" y2="267.50" stroke="#000" stroke-width="1.3"/>
<line x1="68.40" y1="386.80" x2="68.40" y2="394.00" stroke="#000" stroke-width="2.3"/>
<rect x="87.00" y="297.70" width="15.00" height="89.10" fill="#FFF500" stroke="#000" stroke-width="2.8"/>
<line x1="94.50" y1="290.70" x2="94.50" y2="302.40" stroke="#000" stroke-width="1.3"/>
<line x1="89.50" y1="290.70" x2="99.50" y2="290.70" stroke="#000" stroke-width="1.3"/>
<line x1="89.50" y1="302.40" x2="99.50" y2="302.40" stroke="#000" stroke-width="1.3"/>
<line x1="94.50" y1="386.80" x2="94.50" y2="394.00" stroke="#000" stroke-width="2.3"/>
<rect x="112.90" y="295.60" width="15.00" height="91.20" fill="#14EC60" stroke="#000" stroke-width="2.8"/>
<line x1="120.40" y1="287.90" x2="120.40" y2="300.20" stroke="#000" stroke-width="1.3"/>
<line x1="115.40" y1="287.90" x2="125.40" y2="287.90" stroke="#000" stroke-width="1.3"/>
<line x1="115.40" y1="300.20" x2="125.40" y2="300.20" stroke="#000" stroke-width="1.3"/>
<line x1="120.40" y1="386.80" x2="120.40" y2="394.00" stroke="#000" stroke-width="2.3"/>
<rect x="138.70" y="345.00" width="15.00" height="41.80" fill="#00F5FF" stroke="#000" stroke-width="2.8"/>
<line x1="146.20" y1="340.80" x2="146.20" y2="346.20" stroke="#000" stroke-width="1.3"/>
<line x1="141.20" y1="340.80" x2="151.20" y2="340.80" stroke="#000" stroke-width="1.3"/>
<line x1="141.20" y1="346.20" x2="151.20" y2="346.20" stroke="#000" stroke-width="1.3"/>
<line x1="146.20" y1="386.80" x2="146.20" y2="394.00" stroke="#000" stroke-width="2.3"/>
<rect x="164.80" y="329.90" width="15.00" height="56.90" fill="#BB66FF" stroke="#000" stroke-width="2.8"/>
<line x1="172.30" y1="325.70" x2="172.30" y2="331.00" stroke="#000" stroke-width="1.3"/>
<line x1="167.30" y1="325.70" x2="177.30" y2="325.70" stroke="#000" stroke-width="1.3"/>
<line x1="167.30" y1="331.00" x2="177.30" y2="331.00" stroke="#000" stroke-width="1.3"/>
<line x1="172.30" y1="386.80" x2="172.30" y2="394.00" stroke="#000" stroke-width="2.3"/>
<rect x="190.90" y="325.70" width="15.00" height="61.10" fill="#FF0A7A" stroke="#000" stroke-width="2.8"/>
<line x1="198.40" y1="322.30" x2="198.40" y2="326.30" stroke="#000" stroke-width="1.3"/>
<line x1="193.40" y1="322.30" x2="203.40" y2="322.30" stroke="#000" stroke-width="1.3"/>
<line x1="193.40" y1="326.30" x2="203.40" y2="326.30" stroke="#000" stroke-width="1.3"/>
<line x1="198.40" y1="386.80" x2="198.40" y2="394.00" stroke="#000" stroke-width="2.3"/>
<text transform="translate(68.30,257.42) scale(1.0,1)" x="0" y="0" font-size="12.8" font-weight="normal" text-anchor="middle" fill="#222"  >A</text>
<text transform="translate(94.30,283.92) scale(1.0,1)" x="0" y="0" font-size="12.8" font-weight="normal" text-anchor="middle" fill="#222"  >B</text>
<text transform="translate(120.40,284.82) scale(1.0,1)" x="0" y="0" font-size="12.8" font-weight="normal" text-anchor="middle" fill="#222"  >B</text>
<text transform="translate(146.20,334.82) scale(1.0,1)" x="0" y="0" font-size="12.8" font-weight="normal" text-anchor="middle" fill="#222"  >C</text>
<text transform="translate(172.20,319.72) scale(1.0,1)" x="0" y="0" font-size="12.8" font-weight="normal" text-anchor="middle" fill="#222"  >C</text>
<text transform="translate(197.90,313.12) scale(1.0,1)" x="0" y="0" font-size="12.8" font-weight="normal" text-anchor="middle" fill="#222"  >C</text>
<text transform="translate(68.40,405.80) scale(1.07,1)" x="0" y="0" font-size="11.3" font-weight="bold" text-anchor="middle" fill="#111" stroke="#111" stroke-width="0.25" >WT</text>
<text transform="translate(94.50,405.80) scale(1.07,1)" x="0" y="0" font-size="11.3" font-weight="bold" text-anchor="middle" fill="#111" stroke="#111" stroke-width="0.25" >LD</text>
<text transform="translate(120.40,405.80) scale(1.07,1)" x="0" y="0" font-size="11.3" font-weight="bold" text-anchor="middle" fill="#111" stroke="#111" stroke-width="0.25" >WT</text>
<text transform="translate(146.20,405.80) scale(1.07,1)" x="0" y="0" font-size="11.3" font-weight="bold" text-anchor="middle" fill="#111" stroke="#111" stroke-width="0.25" >LD</text>
<text transform="translate(172.30,405.80) scale(1.07,1)" x="0" y="0" font-size="11.3" font-weight="bold" text-anchor="middle" fill="#111" stroke="#111" stroke-width="0.25" >MEF</text>
<text transform="translate(198.40,405.80) scale(1.07,1)" x="0" y="0" font-size="11.3" font-weight="bold" text-anchor="middle" fill="#111" stroke="#111" stroke-width="0.25" >WF</text>
<text transform="translate(81.60,417.03) scale(1.12,1)" x="0" y="0" font-size="10.8" font-weight="normal" text-anchor="middle" fill="#222" stroke="#222" stroke-width="0.25" >Chow</text>
<text transform="translate(131.70,417.03) scale(1.12,1)" x="0" y="0" font-size="10.8" font-weight="normal" text-anchor="middle" fill="#222" stroke="#222" stroke-width="0.25" >HFD</text>
<text transform="translate(182.10,417.03) scale(1.12,1)" x="0" y="0" font-size="10.8" font-weight="normal" text-anchor="middle" fill="#222" stroke="#222" stroke-width="0.25" >Rescue</text>
<text transform="translate(233.96,239.70) scale(1.040,1)" x="0" y="0" font-size="26.31" fill="#111" stroke="#fff" stroke-width="0.15">D</text>
<text transform="translate(243.96,324.90) rotate(-90)" x="0" y="0" font-size="10.6" font-weight="bold" text-anchor="middle" fill="#111" textLength="113.2" lengthAdjust="spacingAndGlyphs">Shannon Diversity (au)</text>
<line x1="267.10" y1="239.90" x2="267.10" y2="392.50" stroke="#000" stroke-width="2.3"/>
<line x1="259.70" y1="391.30" x2="448.80" y2="391.30" stroke="#000" stroke-width="2.6"/>
<line x1="259.70" y1="391.30" x2="267.10" y2="391.30" stroke="#000" stroke-width="2.0"/>
<text transform="translate(259.50,395.20) scale(1.03,1)" x="0" y="0" font-size="11.3" font-weight="bold" text-anchor="end" fill="#111" stroke="#111" stroke-width="0.25" >0</text>
<line x1="259.70" y1="353.73" x2="267.10" y2="353.73" stroke="#000" stroke-width="2.0"/>
<text transform="translate(259.50,357.62) scale(1.03,1)" x="0" y="0" font-size="11.3" font-weight="bold" text-anchor="end" fill="#111" stroke="#111" stroke-width="0.25" >2</text>
<line x1="259.70" y1="316.15" x2="267.10" y2="316.15" stroke="#000" stroke-width="2.0"/>
<text transform="translate(259.50,320.05) scale(1.03,1)" x="0" y="0" font-size="11.3" font-weight="bold" text-anchor="end" fill="#111" stroke="#111" stroke-width="0.25" >4</text>
<line x1="259.70" y1="278.57" x2="267.10" y2="278.57" stroke="#000" stroke-width="2.0"/>
<text transform="translate(259.50,282.47) scale(1.03,1)" x="0" y="0" font-size="11.3" font-weight="bold" text-anchor="end" fill="#111" stroke="#111" stroke-width="0.25" >6</text>
<line x1="259.70" y1="241.00" x2="267.10" y2="241.00" stroke="#000" stroke-width="2.0"/>
<text transform="translate(259.50,244.90) scale(1.03,1)" x="0" y="0" font-size="11.3" font-weight="bold" text-anchor="end" fill="#111" stroke="#111" stroke-width="0.25" >8</text>
<rect x="278.00" y="282.90" width="16.00" height="108.40" fill="#FF8A00" stroke="#000" stroke-width="2.8"/>
<line x1="286.00" y1="278.70" x2="286.00" y2="284.50" stroke="#000" stroke-width="1.3"/>
<line x1="281.00" y1="278.70" x2="291.00" y2="278.70" stroke="#000" stroke-width="1.3"/>
<line x1="281.00" y1="284.50" x2="291.00" y2="284.50" stroke="#000" stroke-width="1.3"/>
<line x1="286.00" y1="391.30" x2="286.00" y2="398.50" stroke="#000" stroke-width="2.3"/>
<rect x="306.80" y="305.60" width="16.00" height="85.70" fill="#F0EC1E" stroke="#000" stroke-width="2.8"/>
<line x1="314.80" y1="300.60" x2="314.80" y2="307.50" stroke="#000" stroke-width="1.3"/>
<line x1="309.80" y1="300.60" x2="319.80" y2="300.60" stroke="#000" stroke-width="1.3"/>
<line x1="309.80" y1="307.50" x2="319.80" y2="307.50" stroke="#000" stroke-width="1.3"/>
<line x1="314.80" y1="391.30" x2="314.80" y2="398.50" stroke="#000" stroke-width="2.3"/>
<rect x="335.50" y="294.90" width="16.00" height="96.40" fill="#0AE86A" stroke="#000" stroke-width="2.8"/>
<line x1="343.50" y1="290.40" x2="343.50" y2="296.50" stroke="#000" stroke-width="1.3"/>
<line x1="338.50" y1="290.40" x2="348.50" y2="290.40" stroke="#000" stroke-width="1.3"/>
<line x1="338.50" y1="296.50" x2="348.50" y2="296.50" stroke="#000" stroke-width="1.3"/>
<line x1="343.50" y1="391.30" x2="343.50" y2="398.50" stroke="#000" stroke-width="2.3"/>
<rect x="364.10" y="313.40" width="16.00" height="77.90" fill="#00FAFF" stroke="#000" stroke-width="2.8"/>
<line x1="372.10" y1="309.00" x2="372.10" y2="315.00" stroke="#000" stroke-width="1.3"/>
<line x1="367.10" y1="309.00" x2="377.10" y2="309.00" stroke="#000" stroke-width="1.3"/>
<line x1="367.10" y1="315.00" x2="377.10" y2="315.00" stroke="#000" stroke-width="1.3"/>
<line x1="372.10" y1="391.30" x2="372.10" y2="398.50" stroke="#000" stroke-width="2.3"/>
<rect x="392.70" y="311.90" width="16.00" height="79.40" fill="#CF7BF4" stroke="#000" stroke-width="2.8"/>
<line x1="400.70" y1="305.60" x2="400.70" y2="314.80" stroke="#000" stroke-width="1.3"/>
<line x1="395.70" y1="305.60" x2="405.70" y2="305.60" stroke="#000" stroke-width="1.3"/>
<line x1="395.70" y1="314.80" x2="405.70" y2="314.80" stroke="#000" stroke-width="1.3"/>
<line x1="400.70" y1="391.30" x2="400.70" y2="398.50" stroke="#000" stroke-width="2.3"/>
<rect x="421.40" y="307.70" width="16.00" height="83.60" fill="#FA2286" stroke="#000" stroke-width="2.8"/>
<line x1="429.40" y1="301.00" x2="429.40" y2="311.60" stroke="#000" stroke-width="1.3"/>
<line x1="424.40" y1="301.00" x2="434.40" y2="301.00" stroke="#000" stroke-width="1.3"/>
<line x1="424.40" y1="311.60" x2="434.40" y2="311.60" stroke="#000" stroke-width="1.3"/>
<line x1="429.40" y1="391.30" x2="429.40" y2="398.50" stroke="#000" stroke-width="2.3"/>
<text transform="translate(286.10,273.92) scale(1.0,1)" x="0" y="0" font-size="12.8" font-weight="normal" text-anchor="middle" fill="#222"  >A</text>
<text transform="translate(314.40,295.62) scale(1.0,1)" x="0" y="0" font-size="12.8" font-weight="normal" text-anchor="middle" fill="#222"  >B</text>
<text transform="translate(343.20,285.22) scale(1.0,1)" x="0" y="0" font-size="12.8" font-weight="normal" text-anchor="middle" fill="#222"  >A</text>
<text transform="translate(372.50,305.02) scale(1.0,1)" x="0" y="0" font-size="12.8" font-weight="normal" text-anchor="middle" fill="#222"  >B</text>
<text transform="translate(400.70,300.12) scale(1.0,1)" x="0" y="0" font-size="12.8" font-weight="normal" text-anchor="middle" fill="#222"  >B</text>
<text transform="translate(429.40,296.92) scale(1.0,1)" x="0" y="0" font-size="12.8" font-weight="normal" text-anchor="middle" fill="#222"  >B</text>
<text transform="translate(286.00,408.43) scale(1.09,1)" x="0" y="0" font-size="11.1" font-weight="bold" text-anchor="middle" fill="#111" stroke="#111" stroke-width="0.25" >WT</text>
<text transform="translate(314.80,408.43) scale(1.09,1)" x="0" y="0" font-size="11.1" font-weight="bold" text-anchor="middle" fill="#111" stroke="#111" stroke-width="0.25" >LD</text>
<text transform="translate(343.50,408.43) scale(1.09,1)" x="0" y="0" font-size="11.1" font-weight="bold" text-anchor="middle" fill="#111" stroke="#111" stroke-width="0.25" >WT</text>
<text transform="translate(372.10,408.43) scale(1.09,1)" x="0" y="0" font-size="11.1" font-weight="bold" text-anchor="middle" fill="#111" stroke="#111" stroke-width="0.25" >LD</text>
<text transform="translate(400.70,408.43) scale(1.09,1)" x="0" y="0" font-size="11.1" font-weight="bold" text-anchor="middle" fill="#111" stroke="#111" stroke-width="0.25" >MEF</text>
<text transform="translate(429.40,408.43) scale(1.09,1)" x="0" y="0" font-size="11.1" font-weight="bold" text-anchor="middle" fill="#111" stroke="#111" stroke-width="0.25" >WF</text>
<text transform="translate(294.40,420.19) scale(1.05,1)" x="0" y="0" font-size="11.0" font-weight="normal" text-anchor="middle" fill="#222" stroke="#222" stroke-width="0.25" >Chow</text>
<text transform="translate(351.80,420.19) scale(1.05,1)" x="0" y="0" font-size="11.0" font-weight="normal" text-anchor="middle" fill="#222" stroke="#222" stroke-width="0.25" >HFD</text>
<text transform="translate(407.60,420.19) scale(1.05,1)" x="0" y="0" font-size="11.0" font-weight="normal" text-anchor="middle" fill="#222" stroke="#222" stroke-width="0.25" >Rescue</text>
<text transform="translate(450.64,240.60) scale(0.771,1)" x="0" y="0" font-size="26.31" fill="#111" stroke="#111" stroke-width="0.25">E</text>
<text transform="translate(477.40,309.30) rotate(-90)" x="0" y="0" font-size="11.3" font-weight="bold" text-anchor="middle" fill="#111" textLength="188.6" lengthAdjust="spacingAndGlyphs">Bacteriodetes:Firmicutes Ratio</text>
<line x1="510.90" y1="234.30" x2="510.90" y2="393.80" stroke="#000" stroke-width="2.3"/>
<line x1="503.00" y1="392.60" x2="705.50" y2="392.60" stroke="#000" stroke-width="2.6"/>
<line x1="503.50" y1="392.60" x2="510.90" y2="392.60" stroke="#000" stroke-width="2.0"/>
<text transform="translate(503.30,396.81) scale(1.04,1)" x="0" y="0" font-size="12.2" font-weight="bold" text-anchor="end" fill="#111" stroke="#111" stroke-width="0.25" >0.0</text>
<line x1="503.50" y1="353.30" x2="510.90" y2="353.30" stroke="#000" stroke-width="2.0"/>
<text transform="translate(503.30,357.51) scale(1.04,1)" x="0" y="0" font-size="12.2" font-weight="bold" text-anchor="end" fill="#111" stroke="#111" stroke-width="0.25" >0.5</text>
<line x1="503.50" y1="314.00" x2="510.90" y2="314.00" stroke="#000" stroke-width="2.0"/>
<text transform="translate(503.30,318.21) scale(1.04,1)" x="0" y="0" font-size="12.2" font-weight="bold" text-anchor="end" fill="#111" stroke="#111" stroke-width="0.25" >1.0</text>
<line x1="503.50" y1="274.70" x2="510.90" y2="274.70" stroke="#000" stroke-width="2.0"/>
<text transform="translate(503.30,278.91) scale(1.04,1)" x="0" y="0" font-size="12.2" font-weight="bold" text-anchor="end" fill="#111" stroke="#111" stroke-width="0.25" >1.5</text>
<line x1="503.50" y1="235.40" x2="510.90" y2="235.40" stroke="#000" stroke-width="2.0"/>
<text transform="translate(503.30,239.61) scale(1.04,1)" x="0" y="0" font-size="12.2" font-weight="bold" text-anchor="end" fill="#111" stroke="#111" stroke-width="0.25" >2.0</text>
<rect x="522.10" y="306.70" width="17.20" height="85.90" fill="#FF8800" stroke="#000" stroke-width="2.8"/>
<line x1="530.70" y1="294.20" x2="530.70" y2="315.90" stroke="#000" stroke-width="1.3"/>
<line x1="525.70" y1="294.20" x2="535.70" y2="294.20" stroke="#000" stroke-width="1.3"/>
<line x1="525.70" y1="315.90" x2="535.70" y2="315.90" stroke="#000" stroke-width="1.3"/>
<line x1="530.70" y1="392.60" x2="530.70" y2="399.80" stroke="#000" stroke-width="2.3"/>
<rect x="553.00" y="289.60" width="17.20" height="103.00" fill="#FFF700" stroke="#000" stroke-width="2.8"/>
<line x1="561.60" y1="278.30" x2="561.60" y2="296.50" stroke="#000" stroke-width="1.3"/>
<line x1="556.60" y1="278.30" x2="566.60" y2="278.30" stroke="#000" stroke-width="1.3"/>
<line x1="556.60" y1="296.50" x2="566.60" y2="296.50" stroke="#000" stroke-width="1.3"/>
<line x1="561.60" y1="392.60" x2="561.60" y2="399.80" stroke="#000" stroke-width="2.3"/>
<rect x="583.80" y="341.40" width="17.20" height="51.20" fill="#11DD11" stroke="#000" stroke-width="2.8"/>
<line x1="592.40" y1="331.70" x2="592.40" y2="348.30" stroke="#000" stroke-width="1.3"/>
<line x1="587.40" y1="331.70" x2="597.40" y2="331.70" stroke="#000" stroke-width="1.3"/>
<line x1="587.40" y1="348.30" x2="597.40" y2="348.30" stroke="#000" stroke-width="1.3"/>
<line x1="592.40" y1="392.60" x2="592.40" y2="399.80" stroke="#000" stroke-width="2.3"/>
<rect x="614.60" y="364.10" width="17.20" height="28.50" fill="#00F0FF" stroke="#000" stroke-width="2.8"/>
<line x1="623.20" y1="353.50" x2="623.20" y2="370.60" stroke="#000" stroke-width="1.3"/>
<line x1="618.20" y1="353.50" x2="628.20" y2="353.50" stroke="#000" stroke-width="1.3"/>
<line x1="618.20" y1="370.60" x2="628.20" y2="370.60" stroke="#000" stroke-width="1.3"/>
<line x1="623.20" y1="392.60" x2="623.20" y2="399.80" stroke="#000" stroke-width="2.3"/>
<rect x="645.40" y="332.90" width="17.20" height="59.70" fill="#CC77FF" stroke="#000" stroke-width="2.8"/>
<line x1="654.00" y1="319.80" x2="654.00" y2="341.30" stroke="#000" stroke-width="1.3"/>
<line x1="649.00" y1="319.80" x2="659.00" y2="319.80" stroke="#000" stroke-width="1.3"/>
<line x1="649.00" y1="341.30" x2="659.00" y2="341.30" stroke="#000" stroke-width="1.3"/>
<line x1="654.00" y1="392.60" x2="654.00" y2="399.80" stroke="#000" stroke-width="2.3"/>
<rect x="676.20" y="355.70" width="17.20" height="36.90" fill="#FF2A88" stroke="#000" stroke-width="2.8"/>
<line x1="684.80" y1="348.30" x2="684.80" y2="358.20" stroke="#000" stroke-width="1.3"/>
<line x1="679.80" y1="348.30" x2="689.80" y2="348.30" stroke="#000" stroke-width="1.3"/>
<line x1="679.80" y1="358.20" x2="689.80" y2="358.20" stroke="#000" stroke-width="1.3"/>
<line x1="684.80" y1="392.60" x2="684.80" y2="399.80" stroke="#000" stroke-width="2.3"/>
<text transform="translate(530.80,289.12) scale(1.0,1)" x="0" y="0" font-size="12.8" font-weight="normal" text-anchor="middle" fill="#222"  >A</text>
<text transform="translate(561.50,274.72) scale(1.0,1)" x="0" y="0" font-size="12.8" font-weight="normal" text-anchor="middle" fill="#222"  >A</text>
<text transform="translate(592.60,327.62) scale(1.0,1)" x="0" y="0" font-size="12.8" font-weight="normal" text-anchor="middle" fill="#222"  >B</text>
<text transform="translate(623.50,349.62) scale(1.0,1)" x="0" y="0" font-size="12.8" font-weight="normal" text-anchor="middle" fill="#222"  >B</text>
<text transform="translate(654.10,314.62) scale(1.0,1)" x="0" y="0" font-size="12.8" font-weight="normal" text-anchor="middle" fill="#222"  >B</text>
<text transform="translate(685.70,340.52) scale(1.0,1)" x="0" y="0" font-size="12.8" font-weight="normal" text-anchor="middle" fill="#222"  >B</text>
<text transform="translate(530.70,410.61) scale(1.02,1)" x="0" y="0" font-size="11.9" font-weight="bold" text-anchor="middle" fill="#111" stroke="#111" stroke-width="0.25" >WT</text>
<text transform="translate(561.60,410.61) scale(1.02,1)" x="0" y="0" font-size="11.9" font-weight="bold" text-anchor="middle" fill="#111" stroke="#111" stroke-width="0.25" >LD</text>
<text transform="translate(592.40,410.61) scale(1.02,1)" x="0" y="0" font-size="11.9" font-weight="bold" text-anchor="middle" fill="#111" stroke="#111" stroke-width="0.25" >WT</text>
<text transform="translate(623.20,410.61) scale(1.02,1)" x="0" y="0" font-size="11.9" font-weight="bold" text-anchor="middle" fill="#111" stroke="#111" stroke-width="0.25" >LD</text>
<text transform="translate(654.00,410.61) scale(1.02,1)" x="0" y="0" font-size="11.9" font-weight="bold" text-anchor="middle" fill="#111" stroke="#111" stroke-width="0.25" >MEF</text>
<text transform="translate(684.80,410.61) scale(1.02,1)" x="0" y="0" font-size="11.9" font-weight="bold" text-anchor="middle" fill="#111" stroke="#111" stroke-width="0.25" >WF</text>
<text transform="translate(542.60,421.50) scale(1.03,1)" x="0" y="0" font-size="11.3" font-weight="normal" text-anchor="middle" fill="#222" stroke="#222" stroke-width="0.25" >Chow</text>
<text transform="translate(603.00,421.50) scale(1.03,1)" x="0" y="0" font-size="11.3" font-weight="normal" text-anchor="middle" fill="#222" stroke="#222" stroke-width="0.25" >HFD</text>
<text transform="translate(665.30,421.50) scale(1.03,1)" x="0" y="0" font-size="11.3" font-weight="normal" text-anchor="middle" fill="#222" stroke="#222" stroke-width="0.25" >Rescue</text>
</svg>
</body></html>
